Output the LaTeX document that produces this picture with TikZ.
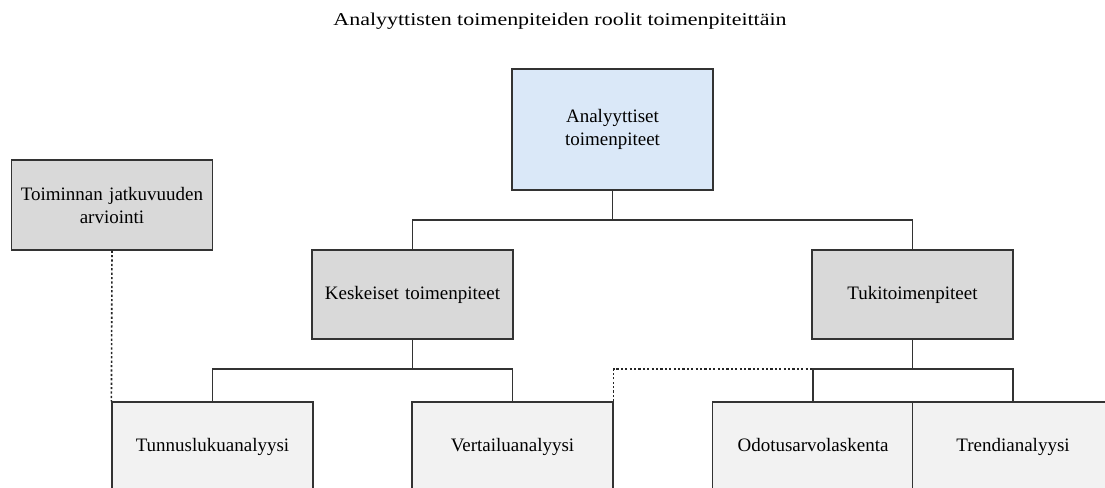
\documentclass[tikz,border=0pt]{standalone}
\usepackage{fontspec}
\setmainfont{Liberation Serif}
\newfontfamily\titlefont[FakeStretch=1.22]{Liberation Serif}
\begin{document}
\begin{tikzpicture}[x=1pt,y=-1pt,
  box/.style={draw=black!80, line width=1.2pt, minimum width=201pt, minimum height=90pt, inner sep=2pt, align=center, font=\fontsize{19}{23}\selectfont, text width=195pt},
  oneline/.style={text height=13pt, text depth=4pt},
  topbox/.style={box, fill={rgb,255:red,218;green,232;blue,248}, minimum height=121pt},
  graybox/.style={box, fill={rgb,255:red,217;green,217;blue,217}},
  leafbox/.style={box, oneline, fill={rgb,255:red,242;green,242;blue,242}},
  link/.style={draw=black!80, line width=1.2pt},
  dotlink/.style={draw=black!85, line width=1.6pt, dash pattern=on 2.2pt off 2.2pt}]
\useasboundingbox (0,0) rectangle (1105,487);
\clip (0,0) rectangle (1105,487);
\node[font=\titlefont\fontsize{18}{20}\selectfont] (title) at (560,21) {Analyyttisten toimenpiteiden roolit toimenpiteittäin};
\node[topbox] (top) at (612.5,129.5) {Analyyttiset\\toimenpiteet};
\node[graybox] (toim) at (112,205) {Toiminnan jatkuvuuden\\arviointi};
\node[graybox, oneline, minimum height=89pt] (kes) at (412.5,294.5) {Keskeiset toimenpiteet};
\node[graybox, oneline, minimum height=89pt] (tuki) at (912.5,294.5) {Tukitoimenpiteet};
\node[leafbox] (tun) at (212.5,447) {Tunnuslukuanalyysi};
\node[leafbox] (ver) at (512.5,447) {Vertailuanalyysi};
\node[leafbox] (odo) at (813,447) {Odotusarvolaskenta};
\node[leafbox] (tre) at (1013,447) {Trendianalyysi};
\coordinate (j1) at (612.5,220);
\coordinate (j2) at (412.5,369);
\coordinate (j3) at (912.5,369);
\coordinate (j4) at (813,369);
\draw[link] (top.south) -- (j1);
\draw[link] (j1) -| (kes.north);
\draw[link] (j1) -| (tuki.north);
\draw[link] (kes.south) -- (j2);
\draw[link] (j2) -| (tun.north);
\draw[link] (j2) -| (ver.north);
\draw[link] (tuki.south) -- (j3);
\draw[link] (j3) -| (odo.north);
\draw[link] (j3) -| (tre.north);
\draw[dotlink] (toim.south) -- (tun.north west);
\draw[dotlink] (ver.north east) |- (j4);
\end{tikzpicture}
\end{document}
